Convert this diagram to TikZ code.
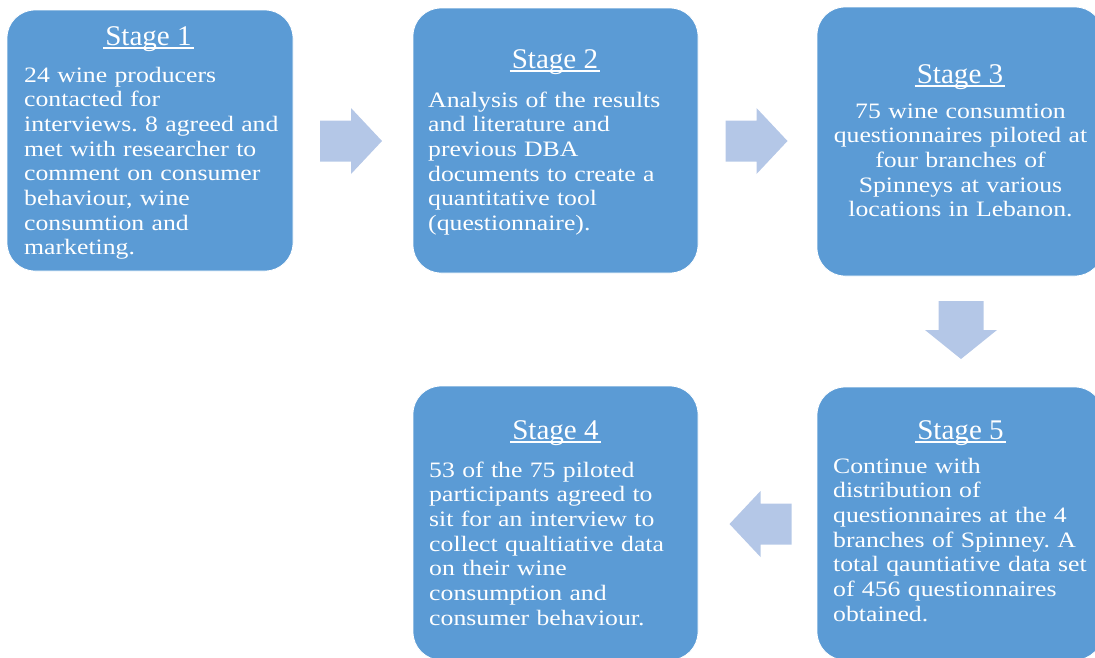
\documentclass[tikz,border=0pt]{standalone}
\usepackage{fontspec}
\setmainfont{Liberation Serif}
\newfontfamily\bodyfont{Liberation Serif}[FakeStretch=1.17]
\newfontfamily\headfont{Liberation Serif}[FakeStretch=1.02]
\usetikzlibrary{calc}
\frenchspacing

\definecolor{boxblue}{RGB}{91,155,213}
\definecolor{arrowblue}{RGB}{180,199,231}

\tikzset{
  stagebox/.style={fill=boxblue, draw=white, line width=0.8pt,
    rounded corners=28pt, inner sep=0pt},
  stagetitle/.style={anchor=base, inner sep=0pt, text=white,
    font=\headfont\fontsize{28.5}{30}\selectfont},
  stagetext/.style={inner sep=0pt, text=white, text width=280pt,
    font=\bodyfont\frenchspacing\fontsize{22}{24.7}\selectfont},
  titleline/.style={draw=white, line width=1.3pt},
  harrow/.pic={\fill[arrowblue] (-31,-20.5) -- (0,-20.5) -- (0,-33) -- (31,0)
    -- (0,33) -- (0,20.5) -- (-31,20.5) -- cycle;},
  varrow/.pic={\fill[arrowblue] (-22.5,29) -- (-22.5,0) -- (-36,0) -- (0,-29)
    -- (36,0) -- (22.5,0) -- (22.5,29) -- cycle;}
}

\begin{document}
\begin{tikzpicture}[x=1pt,y=1pt]
\useasboundingbox (0,0) rectangle (1095,-657);
\clip (0,0) rectangle (1095,-657);

% stage boxes
\node[stagebox, minimum width=286pt, minimum height=261pt] (s1) at (150,-140.5) {};
\node[stagebox, minimum width=285pt, minimum height=265pt] (s2) at (555.5,-140.5) {};
\node[stagebox, minimum width=286pt, minimum height=269pt] (s3) at (960,-141.5) {};
\node[stagebox, minimum width=285pt, minimum height=274pt] (s4) at (555.5,-523) {};
\node[stagebox, minimum width=286pt, minimum height=273pt] (s5) at (960,-523.5) {};

% block arrows between the stages
\pic at (351,-141) {harrow};
\pic at (756.5,-141) {harrow};
\pic at (961,-330) {varrow};
\pic[xscale=-1] at (760.5,-524) {harrow};

% headings
\node[stagetitle] (t1) at (148.5,-45) {Stage 1};
\node[stagetitle] (t2) at (555,-68) {Stage 2};
\node[stagetitle] (t3) at (960,-83) {Stage 3};
\node[stagetitle] (t4) at (555.5,-439) {Stage 4};
\node[stagetitle] (t5) at (960.5,-439) {Stage 5};
\foreach \t in {t1,t2,t3,t4,t5}
  \draw[titleline] ([xshift=-2pt,yshift=-3pt]\t.base west) -- ([xshift=2pt,yshift=-3pt]\t.base east);

% descriptions
\node[stagetext, align=left, anchor=base west] (b1) at (24,-82)
  {24 wine producers\\ contacted for\\ interviews. 8 agreed and\\ met with researcher to\\
   comment on consumer\\ behaviour, wine\\ consumtion and\\ marketing.};
\node[stagetext, align=left, anchor=base west] (b2) at (428,-107)
  {Analysis of the results\\ and literature and\\ previous DBA\\ documents to create a\\
   quantitative tool\\ (questionnaire).};
\node[stagetext, align=center, anchor=base] (b3) at (960.5,-118)
  {75 wine consumtion\\ questionnaires piloted at\\ four branches of\\ Spinneys at various\\
   locations in Lebanon.};
\node[stagetext, align=left, anchor=base west] (b4) at (429,-477)
  {53 of the 75 piloted\\ participants agreed to\\ sit for an interview to\\
   collect qualtiative data\\ on their wine\\ consumption and\\ consumer behaviour.};
\node[stagetext, align=left, anchor=base west] (b5) at (833,-473)
  {Continue with\\ distribution of\\ questionnaires at the 4\\ branches of Spinney. A\\
   total qauntiative data set\\ of 456 questionnaires\\ obtained.};
\end{tikzpicture}
\end{document}
